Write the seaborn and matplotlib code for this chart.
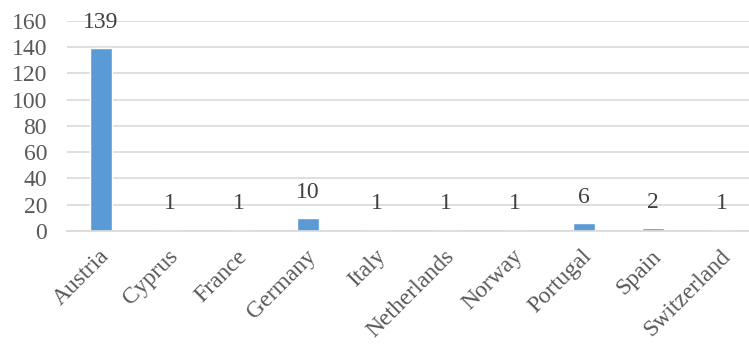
import matplotlib
matplotlib.use("Agg")
import matplotlib.pyplot as plt
import matplotlib.transforms as mtransforms
import seaborn as sns
import pandas as pd

countries = ["Austria", "Cyprus", "France", "Germany", "Italy",
             "Netherlands", "Norway", "Portugal", "Spain", "Switzerland"]
counts = [139, 1, 1, 10, 1, 1, 1, 6, 2, 1]
y_ticks = [0, 20, 40, 60, 80, 100, 120, 140, 160]

df = pd.DataFrame({"country": countries, "count": counts})

sns.set_theme(style="white")
plt.rcParams["font.family"] = ["Liberation Serif", "DejaVu Serif"]

fig = plt.figure(figsize=(7.49, 3.47), dpi=100)
ax = fig.add_axes([66.5 / 749, (347 - 231) / 347, 690 / 749, (231 - 20.7) / 347])

sns.barplot(data=df, x="country", y="count", color="#5b9bd5",
            width=0.31, saturation=1, ax=ax)

ax.set_ylim(0, 160)
ax.set_yticks(y_ticks)
ax.set_xlim(-0.5, len(countries) - 0.5)
ax.yaxis.grid(True, color="#d9d9d9", linewidth=1.2)
ax.set_axisbelow(True)
for side in ["top", "right", "left"]:
    ax.spines[side].set_visible(False)
ax.spines["bottom"].set_color("#d9d9d9")
ax.spines["bottom"].set_linewidth(1.2)
ax.tick_params(axis="both", length=0, labelsize=17, labelcolor="#595959")
ax.tick_params(axis="y", pad=14)
ax.set_xlabel("")
ax.set_ylabel("")

ax.tick_params(axis="x", pad=16)
shift = mtransforms.ScaledTranslation(5 / 100, 0, fig.dpi_scale_trans)
for lbl in ax.get_xticklabels():
    lbl.set_rotation(45)
    lbl.set_ha("right")
    lbl.set_va("center")
    lbl.set_rotation_mode("anchor")
    lbl.set_transform(lbl.get_transform() + shift)

for i, v in enumerate(counts):
    ax.annotate(str(v), (i, v), xytext=(0, 11), textcoords="offset points",
                ha="center", va="bottom", fontsize=17, color="#404040")

fig.savefig("out.png", dpi=100)
